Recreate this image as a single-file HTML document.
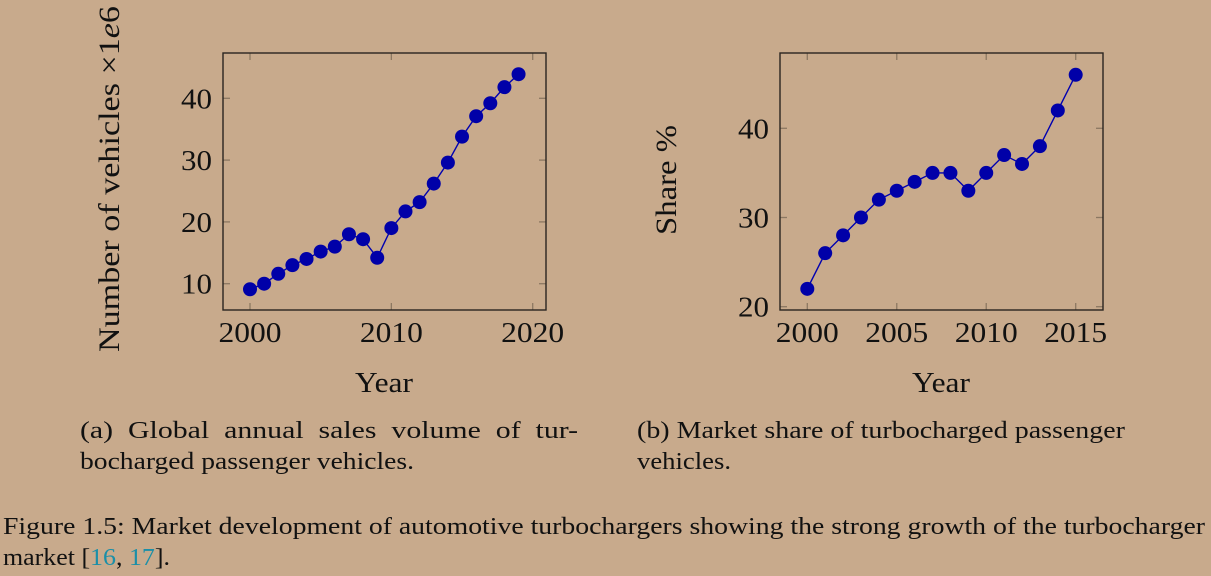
<!DOCTYPE html>
<html><head><meta charset="utf-8">
<style>
html,body{margin:0;padding:0;background:#c8aa8c;}
svg{display:block;font-family:"Liberation Serif",serif;}
</style></head>
<body>
<svg id="fig" width="1211" height="576" viewBox="0 0 1211 576" xmlns="http://www.w3.org/2000/svg">
<rect x="0" y="0" width="1211" height="576" fill="#c8aa8c"/>
<g id="chartA"></g>
<g id="chartB"></g>
<text transform="translate(119,179) rotate(-90)" text-anchor="middle" font-size="30" fill="#111" textLength="346" lengthAdjust="spacingAndGlyphs">Number of vehicles ×1<tspan font-style="italic">e</tspan>6</text>
<text x="384" y="392" text-anchor="middle" font-size="29" fill="#111" textLength="58" lengthAdjust="spacingAndGlyphs">Year</text>
<text transform="translate(676,180) rotate(-90)" text-anchor="middle" font-size="30" fill="#111" textLength="110" lengthAdjust="spacingAndGlyphs">Share %</text>
<text x="941" y="392" text-anchor="middle" font-size="29" fill="#111" textLength="58" lengthAdjust="spacingAndGlyphs">Year</text>
<g font-size="24" fill="#111">
<text x="80" y="438" textLength="498" lengthAdjust="spacingAndGlyphs">(a)&#160;&#160;Global&#160;&#160;annual&#160;&#160;sales&#160;&#160;volume&#160;&#160;of&#160;&#160;tur-</text>
<text x="80" y="469" textLength="334" lengthAdjust="spacingAndGlyphs">bocharged passenger vehicles.</text>
</g>
<g font-size="24" fill="#111">
<text x="637" y="438" textLength="488" lengthAdjust="spacingAndGlyphs">(b) Market share of turbocharged passenger</text>
<text x="637" y="469" textLength="94" lengthAdjust="spacingAndGlyphs">vehicles.</text>
</g>
<g font-size="24" fill="#111">
<text x="3" y="534" textLength="1202" lengthAdjust="spacingAndGlyphs">Figure 1.5: Market development of automotive turbochargers showing the strong growth of the turbocharger</text>
<text x="3" y="565" textLength="167" lengthAdjust="spacingAndGlyphs">market [<tspan fill="#1a8fa8">16</tspan>, <tspan fill="#1a8fa8">17</tspan>].</text>
</g>
</svg>
<script>
const yearsA = [2000,2001,2002,2003,2004,2005,2006,2007,2008,2009,2010,2011,2012,2013,2014,2015,2016,2017,2018,2019];
const valuesA = [9.1,10.0,11.6,13.0,14.0,15.2,16.0,18.0,17.2,14.2,19.0,21.7,23.2,26.2,29.6,33.8,37.1,39.2,41.8,43.9];
const xTicksA = [2000,2010,2020];
const yTicksA = [10,20,30,40];
const yearsB = [2000,2001,2002,2003,2004,2005,2006,2007,2008,2009,2010,2011,2012,2013,2014,2015];
const valuesB = [22,26,28,30,32,33,34,35,35,33,35,37,36,38,42,46];
const xTicksB = [2000,2005,2010,2015];
const yTicksB = [20,30,40];

const NS="http://www.w3.org/2000/svg";
function mk(tag,attrs,parent){const e=document.createElementNS(NS,tag);for(const k in attrs)e.setAttribute(k,attrs[k]);parent.appendChild(e);return e;}

function draw(g,cfg,xs,ys,xt,yt){
  const sx=v=>cfg.x0px+(v-cfg.x0)*(cfg.x1px-cfg.x0px)/(cfg.x1-cfg.x0);
  const sy=v=>cfg.y0px+(v-cfg.y0)*(cfg.y1px-cfg.y0px)/(cfg.y1-cfg.y0);
  const b=cfg.box;
  xt.forEach(t=>{
    const x=sx(t);
    const l1=mk('line',{x1:x,x2:x,y1:b[3],y2:b[3]-7,stroke:'#8c7862','stroke-width':1.3},g);
    
    
    const l2=mk('line',{x1:x,x2:x,y1:b[1],y2:b[1]+7,stroke:'#8c7862','stroke-width':1.3},g);
    
    
    const tx=mk('text',{x:x,y:342,'text-anchor':'middle','font-size':28,fill:'#111',textLength:63,lengthAdjust:'spacingAndGlyphs'},g);
    tx.textContent=t;
    
    
  });
  yt.forEach(t=>{
    const y=sy(t);
    const l1=mk('line',{x1:b[0],x2:b[0]+7,y1:y,y2:y,stroke:'#8c7862','stroke-width':1.3},g);
    
    
    const l2=mk('line',{x1:b[2],x2:b[2]-7,y1:y,y2:y,stroke:'#8c7862','stroke-width':1.3},g);
    
    
    const tx=mk('text',{x:b[0]-11,y:y+10,'text-anchor':'end','font-size':28,fill:'#111',textLength:31,lengthAdjust:'spacingAndGlyphs'},g);
    tx.textContent=t;
    
    
  });
  const fr=mk('rect',{x:b[0],y:b[1],width:b[2]-b[0],height:b[3]-b[1],fill:'none',stroke:'#2a2520','stroke-width':1.4},g);
  
  
  const pts=xs.map((x,i)=>sx(x)+','+sy(ys[i])).join(' ');
  const pl=mk('polyline',{points:pts,fill:'none',stroke:'#0000b0','stroke-width':1.4},g);
  
  
  xs.forEach((x,i)=>{
    const c=mk('circle',{cx:sx(x),cy:sy(ys[i]),r:7,fill:'#0000a8'},g);
    
    
  });
}
draw(document.getElementById('chartA'),{x0:2000,x1:2020,x0px:250,x1px:532.7,y0:10,y1:40,y0px:283.7,y1px:98.3,box:[223,53,546,310]},yearsA,valuesA,xTicksA,yTicksA);
draw(document.getElementById('chartB'),{x0:2000,x1:2015,x0px:807.3,x1px:1075.7,y0:20,y1:40,y0px:306.7,y1px:128.3,box:[780,53,1103,310]},yearsB,valuesB,xTicksB,yTicksB);
</script>
</body></html>
